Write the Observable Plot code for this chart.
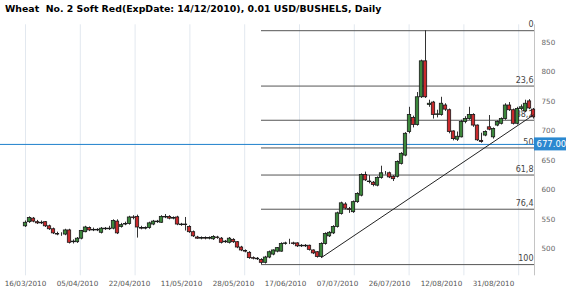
<!DOCTYPE html>
<html><head><meta charset="utf-8">
<script src="https://cdn.jsdelivr.net/npm/d3@7"></script>
<script src="https://cdn.jsdelivr.net/npm/@observablehq/plot@0.6"></script>
<style>
body{margin:0;background:#fff;}
#title{font:bold 9.4px "DejaVu Sans",Verdana,sans-serif;color:#000;height:16px;line-height:17px;padding-left:5px;white-space:nowrap;}
</style></head><body>
<div id="title">Wheat&nbsp; No. 2 Soft Red(ExpDate: 14/12/2010), 0.01 USD/BUSHELS, Daily</div>
<div id="chart"></div>
<script>
const open  = [538,545,551,545,543,545,538,533,525,524,524,531,511,511,517,528,535,531,532,527,533,534,534,546,537,541,542,553,554,535,534,535,541,545,544,553,554,551,553,541,540,537,528,519,517,518,517,516,519,517,511,510,515,511,502,496,493,484,483,481,476,485,490,495,495,508,509,509,509,504,505,505,497,494,486,508,521,526,537,559,575,567,562,579,590,625,614,612,607,620,628,628,622,622,644,658,698,722,710,757,818,744,748,727,727,743,735,699,685,689,715,720,727,709,683,692,706,689,709,712,720,743,735,712,737,733,750,736];
const high  = [547,554,553,548,547,546,540,535,528,527,533,533,515,519,531,538,537,535,534,536,536,538,549,549,543,545,555,556,557,538,537,545,548,548,556,558,556,554,555,543,553,539,530,521,520,520,520,522,521,519,514,519,517,512,504,498,495,486,485,483,487,496,498,502,510,511,516,511,510,507,507,506,498,495,510,527,529,539,562,579,578,570,581,595,627,630,624,614,622,640,631,630,624,649,663,697,740,725,765,820,870,752,750,735,757,746,737,700,698,718,724,740,729,710,696,700,726,705,717,722,746,748,737,740,744,752,753,738];
const low   = [536,543,544,541,541,536,531,524,522,521,522,508,508,509,515,527,529,529,529,525,531,531,532,524,535,539,540,549,518,532,532,533,539,543,543,551,549,549,539,538,530,526,519,516,515,515,515,514,516,508,509,508,509,500,495,493,482,481,480,473,474,483,488,493,494,506,507,506,502,502,502,496,490,484,484,506,519,524,535,557,566,560,560,577,588,614,610,605,605,618,625,619,614,620,642,656,695,705,708,755,755,740,720,722,725,733,695,683,682,688,712,718,706,682,679,690,700,686,707,710,718,733,710,710,734,731,736,720];
const close = [544,552,546,543,544,538,533,526,524,524,531,510,512,517,530,536,531,532,531,534,534,533,547,526,540,542,553,552,536,534,535,543,546,546,554,554,551,552,541,540,541,528,521,517,518,517,518,520,518,510,512,517,511,502,497,495,484,483,482,476,485,494,497,501,508,509,509,508,504,505,504,498,492,486,508,525,527,537,560,577,568,566,579,593,625,616,613,608,620,628,628,621,618,647,661,695,727,710,757,818,757,746,727,728,746,736,698,686,690,715,720,727,709,684,681,698,702,703,715,720,743,735,712,737,740,746,738,723];

const dateLabels  = ["16/03/2010","05/04/2010","22/04/2010","11/05/2010","28/05/2010","17/06/2010","07/07/2010","26/07/2010","12/08/2010","31/08/2010"];
const dateTickIdx = [0,13,26,39,52,65,78,91,104,117];
const gridIdx     = [0,13.7,27.4,41.1,54.8,68.5,82.2,95.9,109.6,123.3];
const priceTicks  = [500,550,600,650,700,750,800,850];
const fibLabels   = ["0","23,6","38,2","50","61,8","76,4","100"];
const fibPrices   = [870,776,718,671,625,567,473];
const fibStartIdx = 59;
const lastPrice   = 677;
const trendIdx    = [74,127];
const trendPrice  = [485,727];

const xMin = -6.25, xMax = 127.25;
const candles = open.map((o,i)=>({i, o, h:high[i], l:low[i], c:close[i]}));
const fib = fibPrices.map((p,k)=>({p, label:fibLabels[k]}));
const trend = trendIdx.map((t,k)=>({i:t, p:trendPrice[k]}));

const chart = Plot.plot({
  width:570, height:277,
  marginTop:8.3, marginBottom:17.7, marginLeft:0, marginRight:36,
  x:{domain:[xMin,xMax], label:null},
  y:{domain:[454,880], label:null},
  style:{fontFamily:"'DejaVu Sans', Verdana, sans-serif", background:"transparent", overflow:"visible"},
  marks:[
    Plot.ruleX(gridIdx,{stroke:"#e2e8ef", strokeWidth:1}),
    Plot.ruleX([xMax],{stroke:"#c4c4c4"}),
    Plot.ruleY(fib,{y:"p", x1:()=>fibStartIdx, x2:()=>xMax, stroke:"#555"}),
    Plot.text(fib,{y:"p", x:()=>xMax, text:"label", textAnchor:"end", dx:-1, dy:-6, fontSize:8, fill:"#444"}),
    Plot.ruleY([lastPrice],{stroke:"#1e80cc"}),
    Plot.ruleX(candles,{x:"i", y1:"l", y2:"h", stroke:"#333"}),
    Plot.rect(candles,{x1:d=>d.i-0.42, x2:d=>d.i+0.42, y1:"o", y2:"c",
      fill:d=>d.c>=d.o?"#3b873b":"#c9292c", stroke:"#1a1a1a", strokeWidth:0.8}),
    Plot.line(trend,{x:"i", y:"p", stroke:"#222", strokeWidth:1}),
    Plot.axisY({anchor:"right", ticks:priceTicks, tickSize:0, tickPadding:7, fontSize:7.2, fill:"#666", label:null}),
    Plot.axisX({ticks:dateTickIdx, tickFormat:v=>dateLabels[dateTickIdx.indexOf(v)], tickSize:0, tickPadding:5, fontSize:7.2, fill:"#555", label:null}),
    Plot.rect([lastPrice],{x1:()=>xMax, x2:()=>xMax, y1:d=>d, y2:d=>d, insetRight:-32, insetTop:-6.5, insetBottom:-6.5, fill:"#2a88d0"}),
    Plot.text([lastPrice],{x:()=>xMax, y:d=>d, text:d=>d.toFixed(2), textAnchor:"start", dx:2, fill:"white", fontSize:8.5})
  ]
});
document.getElementById("chart").appendChild(chart);
</script>
</body></html>
